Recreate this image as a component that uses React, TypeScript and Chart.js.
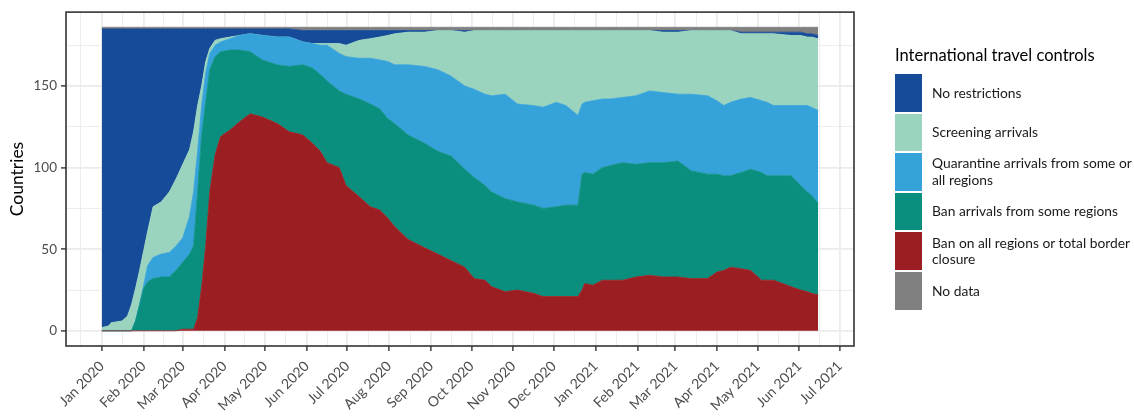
import React, { useEffect, useRef } from "react";
import { Chart, registerables } from "chart.js";
Chart.register(...registerables);

const sampleDays = [
  0, 5, 7, 15, 19, 22, 25, 28, 31, 34, 38, 44, 50, 55, 60, 65, 68, 71, 74, 77,
  80, 84, 88, 95, 102, 110, 119, 130, 139, 149, 156, 162, 167, 176, 181, 191, 199, 206, 212, 217,
  227, 239, 249, 259, 269, 276, 284, 289, 299, 308, 320, 327, 337, 344, 353, 356, 358, 364, 371, 376,
  386, 396, 406, 416, 427, 437, 449, 456, 461, 466, 474, 481, 489, 493, 498, 511, 518, 523, 526, 531,
];

const banAll = [
  0, 0, 0, 0, 0, 0, 0, 0, 0, 0, 0, 0, 0, 0, 1, 1, 1, 8, 27, 52,
  85, 108, 119, 123, 128, 133, 131, 127, 122, 120, 115, 110, 103, 100, 89, 82, 76, 74, 69, 64,
  56, 51, 47, 43, 39, 32, 31, 27, 24, 25, 23, 21, 21, 21, 21, 25, 29, 28, 31, 31,
  31, 33, 34, 33, 33, 32, 32, 36, 37, 39, 38, 37, 31, 31, 31, 27, 25, 24, 23, 22,
];
const banSome = [
  0, 0, 0, 0, 0, 0, 6, 16, 26, 30, 32, 33, 33, 37, 41, 46, 51, 77, 93, 88,
  75, 60, 52, 49, 44, 38, 35, 36, 40, 43, 46, 47, 50, 47, 56, 60, 63, 62, 61, 63,
  64, 64, 63, 64, 60, 62, 58, 58, 57, 54, 54, 54, 55, 56, 56, 71, 68, 68, 69, 70,
  72, 69, 69, 70, 71, 66, 64, 60, 58, 56, 59, 62, 66, 64, 64, 68, 64, 61, 60, 56,
];
const quarantine = [
  0, 0, 0, 0, 0, 0, 0, 0, 2, 10, 13, 14, 15, 15, 15, 23, 33, 25, 18, 18,
  10, 7, 6, 7, 9, 11, 15, 17, 18, 14, 15, 18, 22, 23, 23, 25, 28, 30, 35, 36,
  43, 47, 50, 49, 51, 54, 56, 59, 64, 60, 61, 62, 64, 61, 55, 43, 43, 45, 42, 41,
  40, 42, 44, 43, 41, 47, 48, 45, 43, 45, 45, 44, 44, 45, 43, 43, 49, 53, 54, 57,
];
const screening = [
  2, 3, 5, 6, 9, 16, 20, 21, 21, 21, 31, 32, 37, 41, 45, 41, 37, 28, 12, 7,
  3, 3, 2, 1, 0, 0, 0, 0, 0, 0, 0, 1, 1, 6, 7, 11, 12, 14, 16, 19,
  20, 21, 24, 28, 33, 36, 39, 40, 39, 45, 46, 47, 44, 46, 52, 45, 44, 43, 42, 42,
  41, 40, 37, 37, 38, 39, 40, 43, 46, 44, 40, 39, 41, 42, 44, 43, 43, 42, 43, 44,
];
const noRestrictions = [
  183, 182, 180, 179, 176, 169, 159, 148, 136, 124, 109, 106, 100, 92, 83, 74, 63, 47, 35, 20,
  12, 7, 6, 5, 4, 3, 4, 5, 5, 7, 8, 8, 8, 8, 9, 6, 5, 4, 3, 2,
  1, 1, 0, 0, 1, 0, 0, 0, 0, 0, 0, 0, 0, 0, 0, 0, 0, 0, 0, 0,
  0, 0, 0, 1, 1, 0, 0, 0, 0, 0, 1, 1, 1, 1, 1, 2, 2, 2, 2, 2,
];
const noData = [
  1, 1, 1, 1, 1, 1, 1, 1, 1, 1, 1, 1, 1, 1, 1, 1, 1, 1, 1, 1,
  1, 1, 1, 1, 1, 1, 1, 1, 1, 2, 2, 2, 2, 2, 2, 2, 2, 2, 2, 2,
  2, 2, 2, 2, 2, 2, 2, 2, 2, 2, 2, 2, 2, 2, 2, 2, 2, 2, 2, 2,
  2, 2, 2, 2, 2, 2, 2, 2, 2, 2, 3, 3, 3, 3, 3, 3, 3, 4, 4, 5,
];

const tickLabels = [
  "Jan 2020", "Feb 2020", "Mar 2020", "Apr 2020", "May 2020", "Jun 2020", "Jul 2020",
  "Aug 2020", "Sep 2020", "Oct 2020", "Nov 2020", "Dec 2020", "Jan 2021", "Feb 2021",
  "Mar 2021", "Apr 2021", "May 2021", "Jun 2021", "Jul 2021",
];
const yMajor = [0, 50, 100, 150];
const yMinor = [25, 75, 125, 175];

const seriesNames = [
  "Ban on all regions or total border\nclosure",
  "Ban arrivals from some regions",
  "Quarantine arrivals from some or\nall regions",
  "Screening arrivals",
  "No restrictions",
  "No data",
];
const seriesColors = ["#9a1e22", "#0a8f7f", "#35a2da", "#9ad3be", "#154b99", "#808080"];
const seriesValues = [banAll, banSome, quarantine, screening, noRestrictions, noData];

const FONT = "Lato, 'Open Sans', 'DejaVu Sans', sans-serif";
const W = 1134;
const H = 417;

// month starts as day offsets from 1 Jan 2020
const majorDays = tickLabels.map((_, i) =>
  Math.round((Date.UTC(2020, i, 1) - Date.UTC(2020, 0, 1)) / 86400000)
);
const X_MIN = -0.05 * sampleDays[sampleDays.length - 1];
const X_MAX = sampleDays[sampleDays.length - 1] * 1.05;
const minorDays: number[] = [];
{
  const first = majorDays[0] - (majorDays[1] - majorDays[0]) / 2;
  if (first >= X_MIN) minorDays.push(first);
  for (let i = 0; i < majorDays.length - 1; i++) {
    minorDays.push((majorDays[i] + majorDays[i + 1]) / 2);
  }
}
const xTicks = [...majorDays, ...minorDays].sort((a, b) => a - b);
const yTicks = [...yMajor, ...yMinor].sort((a, b) => a - b);

const panelBorder = {
  id: "panelBorder",
  afterDraw(chart: any) {
    const { ctx, chartArea } = chart;
    ctx.save();
    ctx.strokeStyle = "#333333";
    ctx.lineWidth = 1.6;
    ctx.strokeRect(chartArea.left, chartArea.top, chartArea.right - chartArea.left, chartArea.bottom - chartArea.top);
    ctx.restore();
  },
};

export default function App() {
  const ref = useRef<HTMLCanvasElement>(null);
  useEffect(() => {
    const canvas = ref.current;
    if (!canvas) return;
    const datasets = seriesValues.map((vals, i) => ({
      label: seriesNames[i],
      data: sampleDays.map((d, j) => ({ x: d, y: vals[j] })),
      backgroundColor: seriesColors[i],
      borderColor: seriesColors[i],
      borderWidth: 0.8,
      pointRadius: 0,
      tension: 0,
      fill: i === 0 ? "origin" : "-1",
    }));
    const isMajorX = (v: number) => majorDays.indexOf(v) >= 0;
    const isMajorY = (v: number) => yMajor.indexOf(v) >= 0;
    const chart = new Chart(canvas, {
      type: "line",
      data: { datasets: datasets as any },
      options: {
        responsive: false,
        animation: false,
        layout: { padding: { left: 0, top: 8, right: 280, bottom: 0 } },
        plugins: { legend: { display: false }, tooltip: { enabled: false } },
        scales: {
          x: {
            type: "linear",
            min: X_MIN,
            max: X_MAX,
            afterBuildTicks: (s: any) => {
              s.ticks = xTicks.map((v) => ({ value: v }));
            },
            afterFit: (s: any) => {
              s.height = 71;
            },
            ticks: {
              autoSkip: false,
              minRotation: 45,
              maxRotation: 45,
              padding: 7,
              color: "#4d4d4d",
              font: { family: FONT, size: 14 },
              callback: (v: any) => {
                const idx = majorDays.indexOf(Number(v));
                return idx >= 0 ? tickLabels[idx] : "";
              },
            },
            grid: {
              color: "#ebebeb",
              lineWidth: (c: any) => (isMajorX(c.tick?.value) ? 1.8 : 0.9),
              tickColor: (c: any) => (isMajorX(c.tick?.value) ? "#333333" : "rgba(0,0,0,0)"),
              tickLength: 5,
              tickWidth: 1.4,
            },
            border: { display: false },
          },
          y: {
            type: "linear",
            stacked: true,
            min: -9.3,
            max: 195.3,
            afterBuildTicks: (s: any) => {
              s.ticks = yTicks.map((v) => ({ value: v }));
            },
            afterFit: (s: any) => {
              s.width = 66;
            },
            ticks: {
              padding: 4,
              color: "#4d4d4d",
              font: { family: FONT, size: 13.5 },
              callback: (v: any) => (isMajorY(Number(v)) ? String(v) : ""),
            },
            grid: {
              color: "#ebebeb",
              lineWidth: (c: any) => (isMajorY(c.tick?.value) ? 1.8 : 0.9),
              tickColor: (c: any) => (isMajorY(c.tick?.value) ? "#333333" : "rgba(0,0,0,0)"),
              tickLength: 5,
              tickWidth: 1.4,
            },
            border: { display: false },
            title: {
              display: true,
              text: "Countries",
              color: "#000000",
              font: { family: FONT, size: 17.5 },
              padding: { top: 7, bottom: 0 },
            },
          },
        },
      },
      plugins: [panelBorder],
    });
    return () => chart.destroy();
  }, []);

  const legendOrder = [4, 3, 2, 1, 0, 5];
  return (
    <div style={{ position: "fixed", left: 0, top: 0, width: W, height: H, background: "#fff", overflow: "hidden" }}>
      <canvas ref={ref} width={W} height={H} style={{ position: "absolute", left: 0, top: 0 }} />
      <div
        style={{
          position: "absolute",
          left: 895,
          top: 45,
          font: `16.5px ${FONT}`,
          lineHeight: "20px",
          color: "#000",
          whiteSpace: "nowrap",
        }}
      >
        International travel controls
      </div>
      {legendOrder.map((si, i) => (
        <React.Fragment key={si}>
          <div
            style={{
              position: "absolute",
              left: 895,
              top: 74 + i * 39.6,
              width: 27,
              height: 37.6,
              background: seriesColors[si],
            }}
          />
          <div
            style={{
              position: "absolute",
              left: 932,
              top: 74 + i * 39.6,
              height: 37.6,
              display: "flex",
              alignItems: "center",
              font: `13.8px ${FONT}`,
              lineHeight: "16.5px",
              color: "#1a1a1a",
              whiteSpace: "pre",
            }}
          >
            {seriesNames[si]}
          </div>
        </React.Fragment>
      ))}
    </div>
  );
}
